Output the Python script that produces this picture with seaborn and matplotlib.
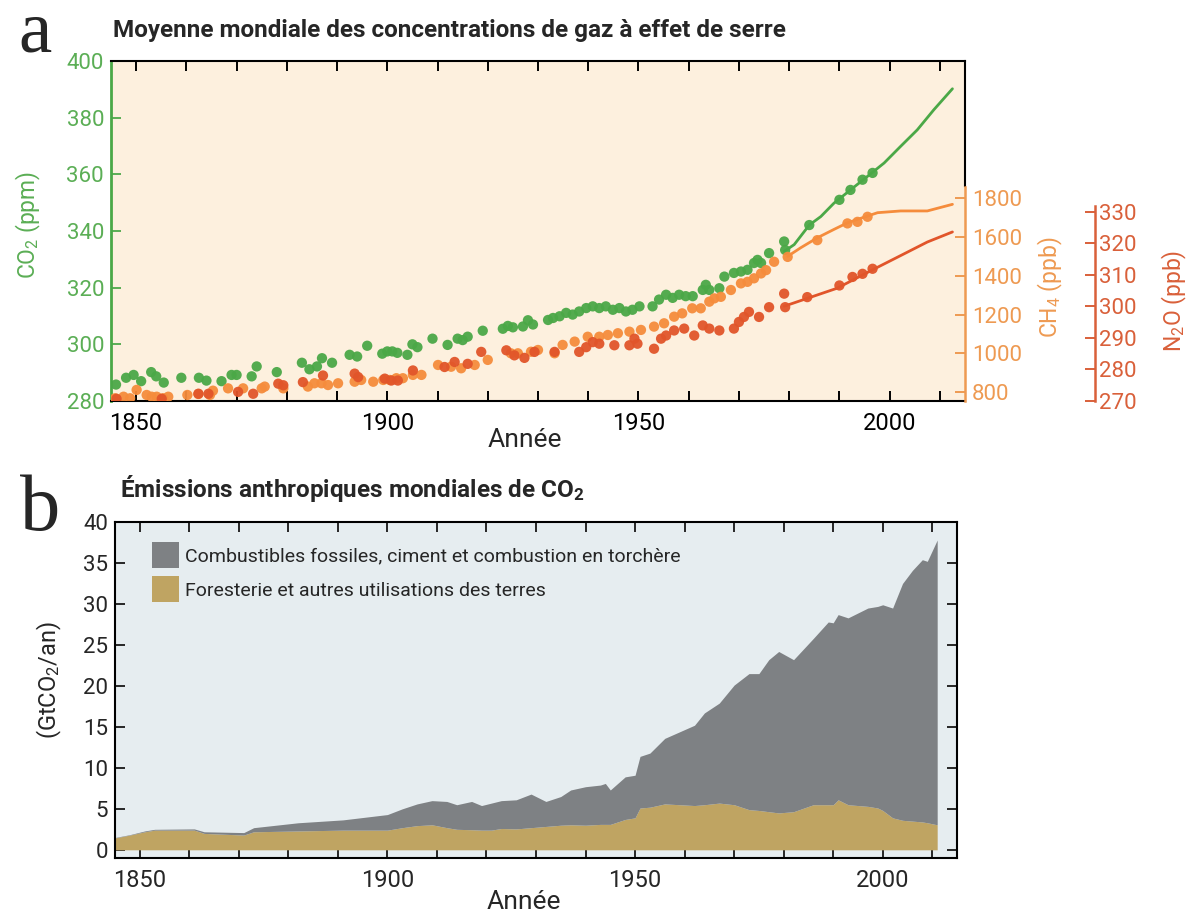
import matplotlib
matplotlib.use("Agg")
import matplotlib.pyplot as plt
import seaborn as sns
import pandas as pd
from matplotlib.patches import Patch

# ---------------- data: panel a (concentrations) ----------------
co2_dot_years = [1846, 1848, 1849.5, 1851, 1853, 1854, 1855.5, 1859, 1862.5, 1864, 1867, 1869, 1870,
                 1873, 1874, 1878, 1883, 1884.5, 1886, 1887, 1889, 1892.5, 1894, 1896, 1899, 1900,
                 1901, 1902, 1904, 1905, 1906, 1909, 1912, 1914, 1915, 1916, 1919, 1923, 1924, 1925,
                 1927, 1928, 1929, 1932, 1933, 1934.3, 1935.6, 1936.9, 1938.2, 1939.6, 1940.9,
                 1942.2, 1943.5, 1944.9, 1946.2, 1947.5, 1948.8, 1950.2, 1952.8, 1954.1, 1955.5,
                 1956.8, 1958.1, 1959.4, 1960.8, 1962.8, 1963.4, 1964.1, 1966.1, 1967.1, 1969,
                 1970.4, 1971.7, 1973, 1973.7, 1974.4, 1976, 1979, 1979.2, 1984, 1990, 1992.2,
                 1994.6, 1996.6]
co2_dot_vals = [285.8, 288.2, 289.2, 287, 290.2, 288.7, 286.5, 288.2, 288.2, 287.2, 287, 289.2, 289.2,
                288.7, 292.2, 290.2, 293.5, 291.2, 292.2, 295.1, 293.5, 296.3, 295.7, 299.5, 296.7, 297.5,
                297.5, 297, 296.3, 300, 299, 302, 299.8, 302, 301.5, 302.7, 304.8, 305.5, 306.5, 306,
                306.3, 308.5, 307, 308.6, 309.3, 309.9, 311.1, 310.5, 311.6, 312.8, 313.4,
                312.8, 313.4, 312.2, 312.8, 311.6, 312.2, 313.4, 313.4, 315.8, 317.5,
                316.4, 317.5, 317, 317, 319.2, 321, 319.2, 319.8, 323.9, 325.2,
                325.7, 326.3, 328.7, 329.8, 328.7, 332.2, 336.3, 333.3, 342.1, 351, 354.5,
                358.1, 360.5]
co2_line_years = [1979, 1981, 1984, 1986.3, 1988.9, 1992.2, 1995.6, 1998.9, 2002.2, 2005.5, 2008.8, 2012.5]
co2_line_vals = [332.8, 335.2, 342.1, 345.1, 349.8, 354.5, 359.3, 364, 369.9, 375.7, 382.8, 390.2]

ch4_dot_years = [1845.8, 1847.5, 1848.8, 1850.1, 1852.1, 1853.1, 1854.1, 1855.4, 1856.4, 1860.2, 1862.4,
                 1864.7, 1865.3, 1868.3, 1871.3, 1875, 1875.6, 1879.3, 1884.2, 1885.5, 1886.9, 1888.2,
                 1890.2, 1893.5, 1894.8, 1897.2, 1899.2, 1900.5, 1901.8, 1903.1, 1905.1, 1906.8, 1910.1,
                 1912.7, 1914.7, 1917.4, 1920, 1924.6, 1926, 1928.6, 1930, 1933.3, 1934.9, 1937.3,
                 1939.9, 1942.2, 1943.9, 1945.9, 1948.2, 1950.5, 1953.1, 1955.1, 1957.1, 1958.7,
                 1960.7, 1962.4, 1964.1, 1965.1, 1966.4, 1968.4, 1970.4, 1971.7, 1973, 1974.4, 1975.4,
                 1977, 1979.7, 1985.6, 1991.6, 1993.6, 1995.6]
ch4_dot_vals = [770, 778, 770, 813, 787, 778, 778, 770, 778, 787, 792,
                787, 809, 821, 821, 821, 830, 821, 830, 847, 847, 838,
                847, 855, 864, 855, 864, 864, 873, 873, 890, 890, 941,
                932, 924, 941, 967, 1001, 1001, 1009, 1018, 1001, 1044, 1061,
                1086, 1086, 1095, 1104, 1112, 1121, 1138, 1155, 1189, 1206,
                1232, 1232, 1266, 1283, 1291, 1326, 1360, 1368, 1386, 1411, 1428,
                1471, 1496, 1582, 1668, 1676, 1702]
ch4_line_years = [1979.7, 1982.3, 1985.6, 1988.9, 1991.6, 1995.6, 1997.6, 2002.2, 2007.5, 2012.5]
ch4_line_vals = [1499, 1543, 1594, 1637, 1671, 1706, 1723, 1732, 1732, 1766]

n2o_dot_years = [1846.1, 1855.1, 1862.4, 1864.4, 1870.3, 1873.3, 1878.3, 1879.3, 1883.2, 1887.2,
                 1893.5, 1894.2, 1899.5, 1900.8, 1902.1, 1905.1, 1911.4, 1913.4, 1916, 1918.7,
                 1923.7, 1925.3, 1927.3, 1929.3, 1933.3, 1938.2, 1939.6, 1940.9, 1942.2, 1945.2,
                 1948.2, 1949.2, 1949.8, 1953.1, 1954.5, 1955.5, 1957.1, 1959.1, 1961.1, 1962.8,
                 1964.1, 1966.1, 1969, 1970, 1971, 1972, 1974, 1976, 1979, 1979.2, 1983.6, 1990,
                 1992.6, 1994.6, 1996.6]
n2o_dot_vals = [270.6, 270.6, 272.2, 272.2, 272.8, 272.2, 275.4, 274.9, 275.9, 278,
                278.6, 277.5, 277, 276.4, 276.4, 279.6, 280.7, 282.3, 281.7, 285.5,
                286, 284.4, 283.6, 285.5, 285.5, 285.5, 287, 288.6, 288.1, 287.6,
                287.6, 289.7, 288.1, 286.5, 289.7, 290.7, 292.3, 292.9, 290.7, 293.9,
                292.9, 292.3, 292.9, 295, 296.6, 298.2, 296.6, 299.7, 304, 299.7, 302.9, 306.6,
                309.3, 310.3, 311.9]
n2o_line_years = [1979, 1983.6, 1989.5, 1997, 2002.2, 2007.5, 2012.5]
n2o_line_vals = [300, 302.5, 305.7, 311.9, 316.1, 320.4, 323.6]

# ---------------- data: panel b (emissions, GtCO2/yr) ----------------
em_years = [1845, 1848, 1851, 1853, 1861, 1863, 1871, 1873, 1882, 1891, 1900, 1903, 1906, 1909,
            1912, 1914, 1917, 1919, 1921, 1923, 1926, 1929, 1932, 1935, 1937, 1940, 1943, 1944,
            1945, 1948, 1950, 1951, 1953, 1956, 1959, 1962, 1964, 1967, 1970, 1973, 1975, 1977,
            1979, 1982, 1986, 1989, 1990, 1991, 1993, 1997, 1999, 2000, 2002, 2004, 2006, 2008,
            2009, 2011]
landuse = [1.45, 1.8, 2.2, 2.4, 2.4, 2.0, 1.8, 2.2, 2.3, 2.4, 2.4, 2.7, 2.95, 3.05,
           2.7, 2.5, 2.45, 2.4, 2.4, 2.6, 2.55, 2.7, 2.85, 3.0, 3.05, 3.0, 3.1, 3.1,
           3.1, 3.7, 3.9, 5.1, 5.2, 5.6, 5.5, 5.4, 5.5, 5.7, 5.5, 4.9, 4.8, 4.65,
           4.5, 4.65, 5.5, 5.5, 5.5, 6.1, 5.5, 5.3, 5.1, 4.8, 3.9, 3.6, 3.5, 3.4,
           3.3, 3.05]
fossil = [0.05, 0.05, 0.1, 0.1, 0.15, 0.2, 0.3, 0.5, 1.0, 1.25, 1.9, 2.3, 2.65, 2.95,
          3.2, 3.0, 3.45, 3.0, 3.3, 3.4, 3.55, 4.1, 3.05, 3.5, 4.25, 4.7, 4.8, 5.0,
          4.2, 5.2, 5.2, 6.3, 6.6, 8.0, 8.9, 9.8, 11.2, 12.2, 14.6, 16.6, 16.7, 18.55,
          19.7, 18.55, 20.3, 22.3, 22.2, 22.6, 22.8, 24.2, 24.6, 25.1, 25.6, 28.9, 30.6, 32.0,
          31.9, 34.75]

legend_labels = ["Combustibles fossiles, ciment et combustion en torchère",
                 "Foresterie et autres utilisations des terres"]
xtick_years = list(range(1850, 2011, 10))

# ---------------- style ----------------
GREEN = "#4BA847"
GREEN_T = "#5BAE55"
ORANGE = "#F58C3C"
ORANGE_T = "#EE9A52"
RED = "#E1552A"
RED_T = "#D9603A"
GRAY = "#7E8184"
TAN = "#BFA462"

sns.set_theme(style="ticks")
plt.rcParams["font.family"] = ["Roboto", "DejaVu Sans"]
plt.rcParams["mathtext.default"] = "regular"

W, H = 1199, 915
fig = plt.figure(figsize=(W / 100, H / 100), dpi=100)
fig.patch.set_facecolor("white")


def box(l, t, r, b):
    return [l / W, 1 - b / H, (r - l) / W, (b - t) / H]


def xlabels(years):
    return [str(y) if y % 50 == 0 else "" for y in years]


# ---------------- panel a ----------------
ax1 = fig.add_axes(box(111, 61, 965, 401))
ax1.set_facecolor("#FDF0DE")
ax_ch4 = ax1.twinx()
ax_n2o = ax1.twinx()

df_co2 = pd.DataFrame({"year": co2_dot_years, "val": co2_dot_vals})
df_ch4 = pd.DataFrame({"year": ch4_dot_years, "val": ch4_dot_vals})
df_n2o = pd.DataFrame({"year": n2o_dot_years, "val": n2o_dot_vals})

sns.lineplot(x=co2_line_years, y=co2_line_vals, ax=ax1, color=GREEN, lw=2.0, zorder=3)
sns.scatterplot(data=df_co2, x="year", y="val", ax=ax1, color=GREEN, s=55, edgecolor="none",
                alpha=0.95, zorder=4)
sns.lineplot(x=ch4_line_years, y=ch4_line_vals, ax=ax_ch4, color=ORANGE, lw=2.0, zorder=3)
sns.scatterplot(data=df_ch4, x="year", y="val", ax=ax_ch4, color=ORANGE, s=55, edgecolor="none",
                alpha=0.95, zorder=4)
sns.lineplot(x=n2o_line_years, y=n2o_line_vals, ax=ax_n2o, color=RED, lw=2.0, zorder=3)
sns.scatterplot(data=df_n2o, x="year", y="val", ax=ax_n2o, color=RED, s=55, edgecolor="none",
                alpha=0.95, zorder=4)

ax1.set_xlim(1845, 2015)
ax1.set_ylim(280, 400)
ax_ch4.set_ylim(756, 2502)
ax_n2o.set_ylim(269.9, 377.9)

ax1.set_xticks(xtick_years)
ax1.set_xticklabels(xlabels(xtick_years))
ax1.set_yticks(range(280, 401, 20))
ax_ch4.set_yticks(range(800, 1801, 200))
ax_n2o.set_yticks(range(270, 331, 10))

for a in (ax1, ax_ch4, ax_n2o):
    a.set_xlabel("")
    a.set_ylabel("")

ax1.tick_params(axis="x", direction="in", length=7, width=1.4, top=True, labelsize=17,
                pad=8, colors="black")
ax1.tick_params(axis="y", direction="in", length=7, width=1.4, labelsize=16, pad=5,
                colors=GREEN_T)
ax_ch4.tick_params(axis="y", direction="in", length=7, width=1.4, labelsize=16, pad=5,
                   colors=ORANGE_T)
ax_n2o.tick_params(axis="y", direction="in", length=7, width=1.4, labelsize=16, pad=3,
                   colors=RED_T)

for s in ("top", "bottom", "right"):
    ax1.spines[s].set_color("black")
    ax1.spines[s].set_linewidth(1.5)
ax1.spines["left"].set_color(GREEN)
ax1.spines["left"].set_linewidth(2.0)
ax1.spines["right"].set_bounds(355.8, 400)

for s in ("top", "bottom", "left"):
    ax_ch4.spines[s].set_visible(False)
    ax_n2o.spines[s].set_visible(False)
ax_ch4.spines["right"].set_color(ORANGE_T)
ax_ch4.spines["right"].set_linewidth(1.8)
ax_ch4.spines["right"].set_bounds(756, 1855)
ax_n2o.spines["right"].set_position(("axes", (1095 - 111) / (965 - 111)))
ax_n2o.spines["right"].set_color(RED_T)
ax_n2o.spines["right"].set_linewidth(1.8)
ax_n2o.spines["right"].set_bounds(269.9, 332)

fig.text(28 / W, 1 - 225 / H, "CO$_2$ (ppm)", rotation=90, ha="center", va="center",
         fontsize=16.5, color=GREEN_T)
fig.text(1050 / W, 1 - 287 / H, "CH$_4$ (ppb)", rotation=90, ha="center", va="center",
         fontsize=16.5, color=ORANGE_T)
fig.text(1174 / W, 1 - 301 / H, "N$_2$O (ppb)", rotation=90, ha="center", va="center",
         fontsize=16.5, color=RED_T)
fig.text(525 / W, 1 - 440 / H, "Année", ha="center", va="center", fontsize=19)

fig.text(18 / W, 1 - 52 / H, "a", family="Liberation Serif", fontsize=54, va="baseline")
fig.text(113 / W, 1 - 37 / H, "Moyenne mondiale des concentrations de gaz à effet de serre",
         fontsize=17.5, fontweight="bold", va="baseline")

# ---------------- panel b ----------------
ax2 = fig.add_axes(box(115, 522, 957, 858))
ax2.set_facecolor("#E6EDF0")
ax2.stackplot(em_years, landuse, fossil, colors=[TAN, GRAY], linewidth=0)
ax2.set_xlim(1845, 2015)
ax2.set_ylim(-1, 40)
ax2.set_xticks(xtick_years)
ax2.set_xticklabels(xlabels(xtick_years))
ax2.set_yticks(range(0, 41, 5))
ax2.tick_params(axis="x", direction="in", length=7, width=1.4, top=True, labelsize=17, pad=8)
ax2.tick_params(axis="y", direction="in", length=7, width=1.4, right=True, labelsize=16, pad=5)
for s in ax2.spines.values():
    s.set_color("black")
    s.set_linewidth(1.5)

handles = [Patch(facecolor=GRAY, edgecolor="none"), Patch(facecolor=TAN, edgecolor="none")]
ax2.legend(handles, legend_labels, loc="upper left", bbox_to_anchor=(0.044, 0.94),
           frameon=False, fontsize=14, handlelength=1.4, handleheight=1.7,
           handletextpad=0.3, labelspacing=0.4, borderpad=0, borderaxespad=0)

fig.text(49 / W, 1 - 680 / H, "(GtCO$_2$/an)", rotation=90, ha="center", va="center",
         fontsize=17)
fig.text(524 / W, 1 - 902 / H, "Année", ha="center", va="center", fontsize=19)
fig.text(20 / W, 1 - 530 / H, "b", family="Liberation Serif", fontsize=58, va="baseline")
fig.text(120 / W, 1 - 497 / H, "Émissions anthropiques mondiales de CO$_2$",
         fontsize=17.5, fontweight="bold", va="baseline")

fig.savefig("out.png", dpi=100)
